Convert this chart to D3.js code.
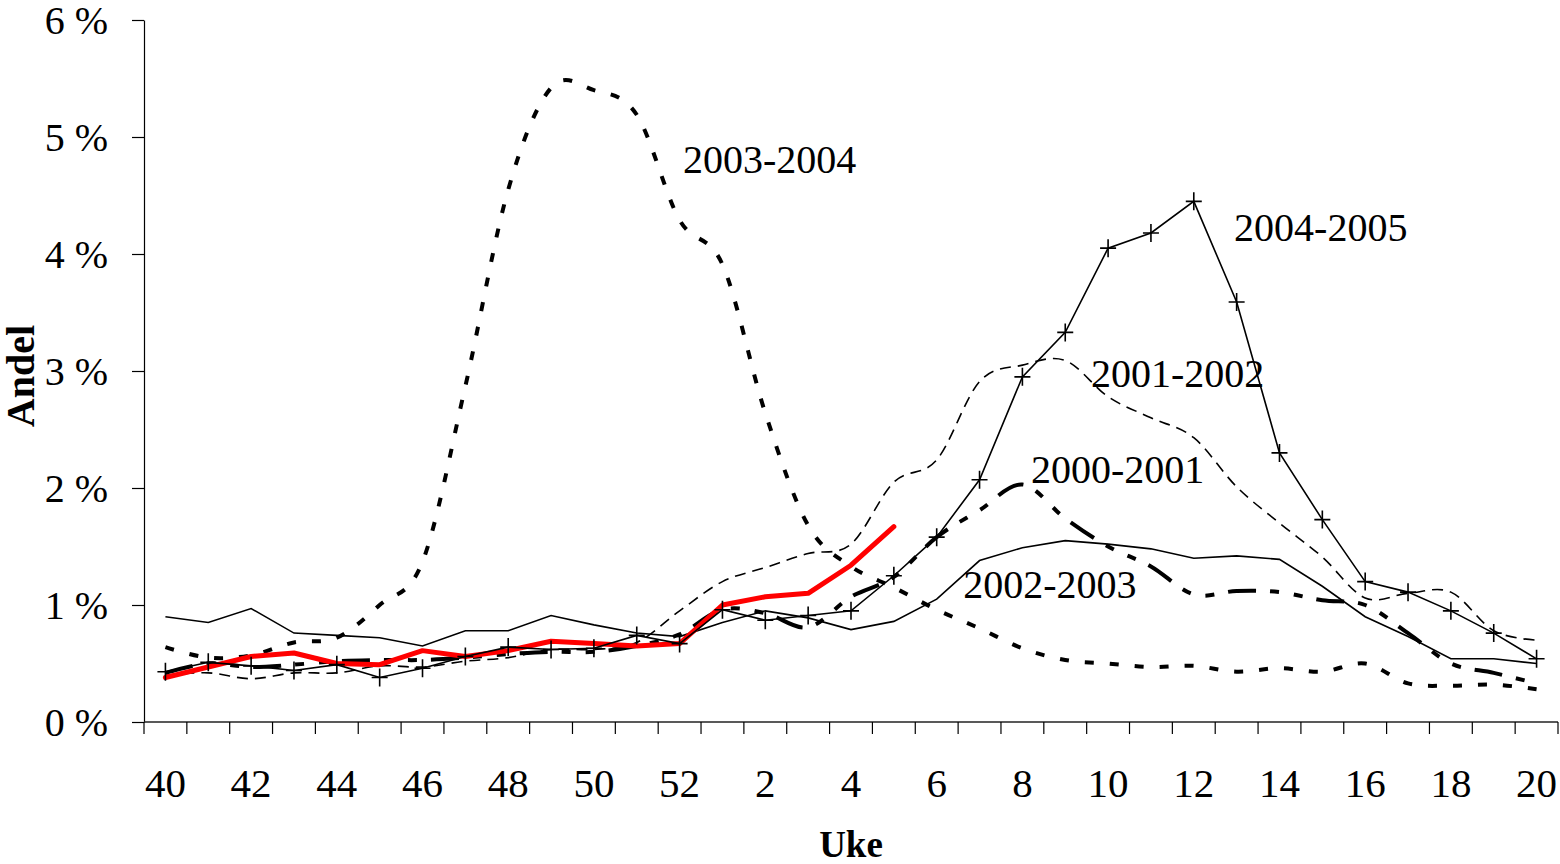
<!DOCTYPE html>
<html>
<head>
<meta charset="UTF-8">
<script src="https://cdn.jsdelivr.net/npm/d3@7"></script>
<style>
  body { margin: 0; background: #fff; }
  svg text { font-family: "Liberation Serif", "Times New Roman", serif; fill: #000; }
</style>
</head>
<body>
<svg width="1560" height="864"></svg>
<script>
// weeks 40..52 then 1..20
var weeks = [40,41,42,43,44,45,46,47,48,49,50,51,52,1,2,3,4,5,6,7,8,9,10,11,12,13,14,15,16,17,18,19,20];
var tickWeeks = [40,42,44,46,48,50,52,2,4,6,8,10,12,14,16,18,20];
var yTicks = [0,1,2,3,4,5,6];

// share (%) per week
var s2000_2001 = [0.42,0.50,0.47,0.49,0.52,0.53,0.53,0.55,0.58,0.60,0.60,0.65,0.75,0.96,0.93,0.81,1.07,1.24,1.58,1.81,2.03,1.74,1.50,1.33,1.09,1.12,1.11,1.04,1.00,0.76,0.50,0.42,0.33];
var s2001_2002 = [0.40,0.42,0.37,0.42,0.42,0.48,0.47,0.52,0.55,0.62,0.62,0.68,0.95,1.20,1.32,1.44,1.52,2.05,2.24,2.91,3.05,3.09,2.78,2.60,2.43,2.01,1.70,1.41,1.06,1.10,1.11,0.78,0.70];
var s2002_2003 = [0.90,0.85,0.97,0.76,0.74,0.72,0.65,0.78,0.78,0.91,0.83,0.76,0.73,0.85,0.95,0.89,0.79,0.86,1.05,1.38,1.49,1.55,1.52,1.48,1.40,1.42,1.39,1.16,0.90,0.73,0.54,0.54,0.50];
var s2003_2004 = [0.64,0.55,0.57,0.68,0.72,1.00,1.37,2.87,4.55,5.42,5.40,5.19,4.29,3.91,2.64,1.68,1.33,1.15,0.96,0.80,0.63,0.53,0.50,0.47,0.48,0.43,0.46,0.43,0.50,0.33,0.31,0.32,0.28];
var s2004_2005 = [0.43,0.51,0.48,0.44,0.49,0.38,0.46,0.56,0.64,0.62,0.63,0.74,0.67,0.96,0.87,0.91,0.95,1.25,1.58,2.07,2.95,3.33,4.05,4.18,4.45,3.59,2.30,1.73,1.20,1.11,0.95,0.76,0.54];
var s2005_2006 = [0.38,0.47,0.56,0.59,0.50,0.49,0.61,0.56,0.61,0.69,0.67,0.65,0.67,1.00,1.07,1.10,1.34,1.67];

// series label anchors: position along weeks (index) and value
var labelText = ["2003-2004","2004-2005","2001-2002","2000-2001","2002-2003"];
var labelIdx  = [12.08, 24.94, 21.6, 20.2, 18.62];
var labelVal  = [4.69, 4.11, 2.86, 2.04, 1.06];

var svg = d3.select("svg");
var plotL = 144, plotR = 1558, plotT = 20, plotB = 722;

var x = d3.scalePoint().domain(weeks).range([plotL, plotR]).padding(0.5);
var xi = d3.scaleLinear().domain([0, weeks.length - 1]).range([x(weeks[0]), x(weeks[weeks.length - 1])]);
var y = d3.scaleLinear().domain([0, 6]).range([plotB, plotT]);

// y axis
var yAxis = svg.append("g")
  .attr("transform", "translate(" + plotL + ",0)")
  .call(d3.axisLeft(y).tickValues(yTicks).tickSize(12).tickSizeOuter(0).tickPadding(24).tickFormat(function(d){ return d + " %"; }));
yAxis.select(".domain").attr("stroke", "#000").attr("stroke-width", 1.2);
yAxis.selectAll(".tick line").attr("stroke", "#000").attr("stroke-width", 1.2);
yAxis.selectAll("text").style("font-size", "40px").attr("dy", "0.33em").attr("fill", "#000");

// x axis (ticks between categories, labels every second week)
var xg = svg.append("g");
xg.append("line")
  .attr("x1", plotL).attr("x2", plotR).attr("y1", plotB).attr("y2", plotB)
  .attr("stroke", "#222").attr("stroke-width", 1.5);
var bounds = weeks.map(function(w){ return x(w) - x.step() / 2; });
bounds.push(x(weeks[weeks.length - 1]) + x.step() / 2);
xg.selectAll("line.tk").data(bounds).enter().append("line")
  .attr("class", "tk")
  .attr("x1", function(d){ return d; }).attr("x2", function(d){ return d; })
  .attr("y1", plotB).attr("y2", plotB + 12)
  .attr("stroke", "#000").attr("stroke-width", 1.2);
xg.selectAll("text").data(tickWeeks).enter().append("text")
  .attr("x", function(d){ return x(d); })
  .attr("y", 797)
  .attr("text-anchor", "middle")
  .style("font-size", "41px")
  .text(function(d){ return d; });

// axis titles
svg.append("text")
  .attr("x", (plotL + plotR) / 2).attr("y", 857)
  .attr("text-anchor", "middle")
  .style("font-size", "37px").style("font-weight", "bold")
  .text("Uke");
svg.append("text")
  .attr("transform", "translate(34,376) rotate(-90)")
  .attr("text-anchor", "middle")
  .style("font-size", "40px").style("font-weight", "bold")
  .text("Andel");

// lines
var straight = d3.line()
  .x(function(d, i){ return x(weeks[i]); })
  .y(function(d){ return y(d); });
var smooth = d3.line()
  .x(function(d, i){ return x(weeks[i]); })
  .y(function(d){ return y(d); })
  .curve(d3.curveCardinal.tension(0));

var lines = svg.append("g").attr("fill", "none");

lines.append("path").attr("d", straight(s2002_2003))
  .attr("stroke", "#000").attr("stroke-width", 1.6);

lines.append("path").attr("d", smooth(s2001_2002))
  .attr("stroke", "#000").attr("stroke-width", 1.6).attr("stroke-dasharray", "11,7");

lines.append("path").attr("d", smooth(s2000_2001))
  .attr("stroke", "#000").attr("stroke-width", 4).attr("stroke-dasharray", "28,14,9,15,9,14");

lines.append("path").attr("d", smooth(s2003_2004))
  .attr("stroke", "#000").attr("stroke-width", 4).attr("stroke-dasharray", "9,16");

lines.append("path").attr("d", straight(s2005_2006))
  .attr("stroke", "#ff0000").attr("stroke-width", 5)
  .attr("stroke-linejoin", "round").attr("stroke-linecap", "round");

lines.append("path").attr("d", straight(s2004_2005))
  .attr("stroke", "#000").attr("stroke-width", 1.6);

lines.selectAll("path.mk").data(s2004_2005).enter().append("path")
  .attr("class", "mk")
  .attr("transform", function(d, i){ return "translate(" + x(weeks[i]) + "," + y(d) + ")"; })
  .attr("d", "M-8,0H8M0,-9V9")
  .attr("stroke", "#000").attr("stroke-width", 1.6);

// series labels
svg.append("g").selectAll("text").data(labelText).enter().append("text")
  .attr("x", function(d, i){ return xi(labelIdx[i]); })
  .attr("y", function(d, i){ return y(labelVal[i]); })
  .style("font-size", "40px")
  .text(function(d){ return d; });
</script>
</body>
</html>
